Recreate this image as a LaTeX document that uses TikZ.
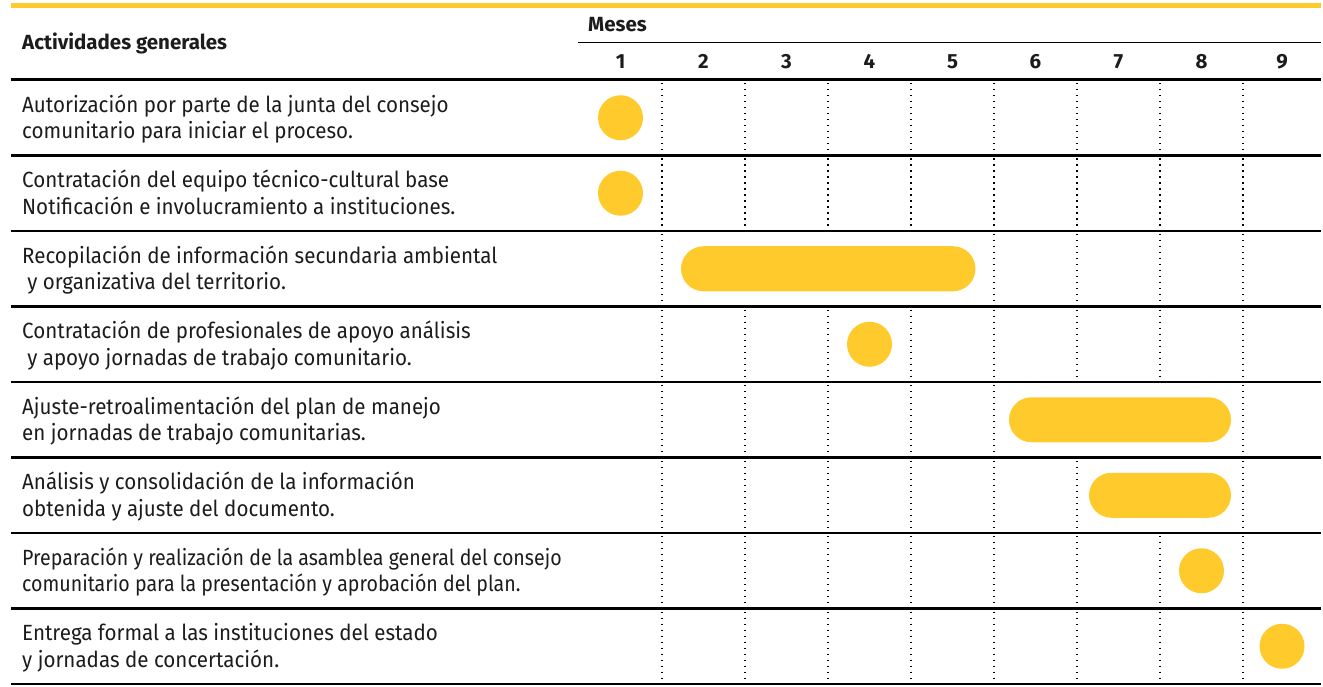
\documentclass[tikz,border=0pt]{standalone}
\usepackage{graphicx}
\usepackage{fontspec}
\IfFontExistsTF{Fira Sans Book}{%
  \IfFontExistsTF{Fira Sans Bold}{%
    \setmainfont{Fira Sans Book}[FakeStretch=0.935, BoldFont={Fira Sans Bold}, BoldFeatures={FakeStretch=1.0}]}{%
    \setmainfont{Fira Sans Book}[FakeStretch=0.935]}}{%
  \setmainfont{Fira Sans}[FakeStretch=0.935, BoldFeatures={FakeStretch=1.0}]}
\definecolor{gold}{HTML}{FFCB2C}
\definecolor{ink}{HTML}{1C1C1C}
\begin{document}
\begin{tikzpicture}[x=1pt,y=-1pt,
  rowtxt/.style={anchor=base west, inner sep=0pt, text=ink, font=\fontsize{22}{26.5}\selectfont},
  hdr/.style={inner sep=0pt, text=ink, font=\bfseries\fontsize{20.5}{22}\selectfont},
  tablerule/.style={line width=2.2pt, draw=black},
  dots/.style={line width=1.3pt, draw=black, dash pattern=on 1.3pt off 4.7pt},
  blob/.style={fill=gold},
]
\useasboundingbox (0,0) rectangle (1323,687);

% top rule
\draw[line width=4.5pt, draw=gold] (11,5.3) -- (1321,5.3);

% header
\node[hdr, anchor=base west] (hact) at (22,50) {Actividades generales};
\node[hdr, anchor=base west] (hmes) at (588,32) {Meses};
\draw[line width=1.8pt, draw=black] (578,42.5) -- (1321,42.5);
\foreach \m/\cx in {1/620.5,2/703.5,3/786.5,4/869.5,5/952.5,6/1035.5,7/1118.5,8/1201.5,9/1282}
  \node[hdr, anchor=base] (m\m) at (\cx,69) {\m};
\draw[line width=3pt, draw=black] (11,80) -- (1321,80);

% row rules
\foreach \yy in {155.5,231,306.5,382,457.5,533,608.5,684}
  \draw[tablerule] (11,\yy) -- (1321,\yy);

% dotted column separators (per row)
\foreach \t/\ks in {80/{1,2,3,4,5,6,7,8},155.5/{1,2,3,4,5,6,7,8},231/{1,5,6,7,8},306.5/{1,2,3,4,5,6,7,8},382/{1,2,3,4,5,8},457.5/{1,2,3,4,5,6,8},533/{1,2,3,4,5,6,7,8},608.5/{1,2,3,4,5,6,7,8}}
  \foreach \k in \ks
    \draw[dots] ({579+83*\k},{\t+3}) -- ({579+83*\k},{\t+74.5});

% activity texts
\node[rowtxt] (a1) at (22,112.25) {\begin{tabular}[t]{@{}l@{}}Autorización por parte de la junta del consejo\\comunitario para iniciar el proceso.\end{tabular}};
\node[rowtxt] (a2) at (22,187.75) {\begin{tabular}[t]{@{}l@{}}Contratación del equipo técnico-cultural base\\Notificación e involucramiento a instituciones.\end{tabular}};
\node[rowtxt] (a3) at (22,263.25) {\begin{tabular}[t]{@{}l@{}}Recopilación de información secundaria ambiental\\\hspace{0.23em}y organizativa del territorio.\end{tabular}};
\node[rowtxt] (a4) at (22,338.75) {\begin{tabular}[t]{@{}l@{}}Contratación de profesionales de apoyo análisis\\\hspace{0.23em}y apoyo jornadas de trabajo comunitario.\end{tabular}};
\node[rowtxt] (a5) at (22,414.25) {\begin{tabular}[t]{@{}l@{}}Ajuste-retroalimentación del plan de manejo\\en jornadas de trabajo comunitarias.\end{tabular}};
\node[rowtxt] (a6) at (22,489.75) {\begin{tabular}[t]{@{}l@{}}Análisis y consolidación de la información\\obtenida y ajuste del documento.\end{tabular}};
\node[rowtxt] (a7) at (22,565.25) {\scalebox{0.952}[1]{\begin{tabular}[t]{@{}l@{}}Preparación y realización de la asamblea general del consejo\\comunitario para la presentación y aprobación del plan.\end{tabular}}};
\node[rowtxt] (a8) at (22,640.75) {\begin{tabular}[t]{@{}l@{}}Entrega formal a las instituciones del estado\\y jornadas de concertación.\end{tabular}};

% schedule marks
\fill[blob] (620.5,117.75) circle (22.5pt);
\fill[blob] (620.5,193.25) circle (22.5pt);
\fill[blob, rounded corners=22.5pt] (681,246.25) rectangle (975.5,291.25);
\fill[blob] (869.5,344.25) circle (22.5pt);
\fill[blob, rounded corners=22.5pt] (1009,397.25) rectangle (1231,442.25);
\fill[blob, rounded corners=22.5pt] (1089,472.75) rectangle (1231,517.75);
\fill[blob] (1201.5,570.75) circle (22.5pt);
\fill[blob] (1282,646.25) circle (22.5pt);
\end{tikzpicture}
\end{document}
